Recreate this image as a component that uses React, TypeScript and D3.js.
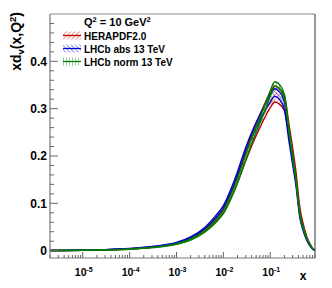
import * as d3 from "d3";
import { useRef, useEffect } from "react";

// x grid (log), band edges per fit
const xGrid = [2e-6, 1e-5, 3e-5, 1e-4, 3e-4, 1e-3, 2e-3, 4e-3, 7e-3, 0.01, 0.015, 0.02, 0.03, 0.045, 0.06, 0.08, 0.1, 0.125, 0.15, 0.2, 0.25, 0.3, 0.35, 0.43, 0.5, 0.6, 0.7, 0.8, 0.9];

const heraLow = [0.0002, 0.0007, 0.0015, 0.0033, 0.0068, 0.0138, 0.0232, 0.040, 0.062, 0.080, 0.114, 0.143, 0.190, 0.233, 0.260, 0.285, 0.302, 0.314, 0.311, 0.296, 0.244, 0.198, 0.155, 0.080, 0.052, 0.026, 0.013, 0.0045, 0.0005];
const heraHigh = [0.0003, 0.0009, 0.0019, 0.0041, 0.0082, 0.0162, 0.0268, 0.046, 0.070, 0.090, 0.128, 0.160, 0.212, 0.257, 0.287, 0.315, 0.335, 0.348, 0.344, 0.328, 0.268, 0.218, 0.170, 0.090, 0.058, 0.030, 0.015, 0.0055, 0.0008];

const absLow = [0.0003, 0.0009, 0.0018, 0.0039, 0.0078, 0.0156, 0.026, 0.045, 0.069, 0.088, 0.125, 0.157, 0.206, 0.249, 0.275, 0.298, 0.314, 0.326, 0.322, 0.298, 0.232, 0.182, 0.140, 0.068, 0.043, 0.022, 0.010, 0.0035, 0.0004];
const absHigh = [0.0004, 0.0011, 0.0021, 0.0045, 0.0088, 0.0172, 0.029, 0.049, 0.075, 0.095, 0.134, 0.167, 0.218, 0.261, 0.287, 0.311, 0.330, 0.342, 0.338, 0.314, 0.246, 0.193, 0.148, 0.073, 0.047, 0.024, 0.011, 0.004, 0.0005];

const normLow = [0.0002, 0.0006, 0.0014, 0.0031, 0.0064, 0.0132, 0.0222, 0.039, 0.060, 0.078, 0.113, 0.143, 0.192, 0.239, 0.269, 0.300, 0.326, 0.347, 0.344, 0.322, 0.252, 0.196, 0.150, 0.074, 0.048, 0.025, 0.012, 0.004, 0.0005];
const normHigh = [0.0003, 0.0008, 0.0017, 0.0037, 0.0074, 0.0148, 0.0248, 0.043, 0.066, 0.085, 0.122, 0.153, 0.203, 0.251, 0.281, 0.312, 0.338, 0.357, 0.353, 0.330, 0.260, 0.203, 0.156, 0.078, 0.051, 0.027, 0.013, 0.0048, 0.0006];

const seriesNames = ["HERAPDF2.0", "LHCb abs 13 TeV", "LHCb norm 13 TeV"];
const seriesColors = ["#c00000", "#0000cc", "#008000"];
const seriesLow = [heraLow, absLow, normLow];
const seriesHigh = [heraHigh, absHigh, normHigh];

const yMajor = [0, 0.1, 0.2, 0.3, 0.4];
const xMajor = [1e-5, 1e-4, 1e-3, 1e-2, 1e-1];
const xMajorExp = ["-5", "-4", "-3", "-2", "-1"];

const width = 332;
const height = 288;
const left = 50, right = 315, top = 14, bottom = 258;
const font = "Liberation Sans, Arial, sans-serif";

export default function App() {
    const ref = useRef<SVGGElement>(null);

    useEffect(() => {
        document.body.style.margin = "0";
        const g = d3.select(ref.current);
        g.selectAll("*").remove();

        const x = d3.scaleLog().domain([2e-6, 0.9]).range([left, right]);
        const y = d3.scaleLinear().domain([-0.0155, 0.5]).range([bottom, top]);

        const defs = g.append("defs");
        defs.append("clipPath").attr("id", "frame")
            .append("rect").attr("x", left).attr("y", top)
            .attr("width", right - left).attr("height", bottom - top);

        // hatch patterns: red "/", blue "\", green "|"
        const angles = [45, -45, 0];
        seriesColors.forEach((c, i) => {
            const p = defs.append("pattern")
                .attr("id", `hatch${i}`)
                .attr("patternUnits", "userSpaceOnUse")
                .attr("width", 3).attr("height", 3)
                .attr("patternTransform", `rotate(${angles[i]})`);
            p.append("line").attr("x1", 0).attr("y1", 0).attr("x2", 0).attr("y2", 3)
                .attr("stroke", c).attr("stroke-width", 1);
        });

        g.append("rect").attr("x", left).attr("y", top)
            .attr("width", right - left).attr("height", bottom - top)
            .attr("fill", "white");

        const bands = g.append("g").attr("clip-path", "url(#frame)");
        seriesColors.forEach((c, i) => {
            const lo = seriesLow[i], hi = seriesHigh[i];
            const area = d3.area<number>()
                .x((_, k) => x(xGrid[k]))
                .y0((_, k) => y(lo[k]))
                .y1((_, k) => y(hi[k]))
                .curve(d3.curveMonotoneX);
            bands.append("path").attr("d", area(xGrid))
                .attr("fill", `url(#hatch${i})`).attr("opacity", 0.8);
            [lo, hi].forEach(arr => {
                const line = d3.line<number>()
                    .x((_, k) => x(xGrid[k]))
                    .y((_, k) => y(arr[k]))
                    .curve(d3.curveMonotoneX);
                bands.append("path").attr("d", line(xGrid))
                    .attr("fill", "none").attr("stroke", c).attr("stroke-width", 1.4);
            });
        });

        // frame lines
        g.append("line").attr("x1", left).attr("x2", right).attr("y1", top).attr("y2", top)
            .attr("stroke", "#8a8a8a").attr("stroke-width", 1.2);
        g.append("line").attr("x1", right).attr("x2", right).attr("y1", top).attr("y2", bottom)
            .attr("stroke", "#333").attr("stroke-width", 1);
        g.append("line").attr("x1", left).attr("x2", left).attr("y1", top).attr("y2", bottom)
            .attr("stroke", "#777").attr("stroke-width", 1.2);
        g.append("line").attr("x1", left).attr("x2", right).attr("y1", bottom).attr("y2", bottom)
            .attr("stroke", "#777").attr("stroke-width", 1.2);

        // y ticks
        const yMinor = d3.range(0, 0.5, 0.02);
        g.selectAll(".ymin").data(yMinor).join("line")
            .attr("x1", left).attr("x2", d => left + (yMajor.some(m => Math.abs(m - d) < 1e-6) ? 8 : 4))
            .attr("y1", d => y(d)).attr("y2", d => y(d))
            .attr("stroke", "#666").attr("stroke-width", 1);
        g.selectAll(".ylab").data(yMajor).join("text")
            .attr("x", left - 3).attr("y", d => y(d) + 4.3)
            .attr("text-anchor", "end")
            .attr("font-family", font)
            .attr("font-weight", "bold").attr("font-size", 12)
            .text(d => d === 0 ? "0" : d3.format(".1f")(d));

        // x ticks
        const xMinor: number[] = [];
        for (let e = -6; e <= -1; e++) {
            for (let m = 1; m <= 9; m++) {
                const v = m * Math.pow(10, e);
                if (v >= 2e-6 && v <= 0.9) xMinor.push(v);
            }
        }
        g.selectAll(".xmin").data(xMinor).join("line")
            .attr("x1", d => x(d)).attr("x2", d => x(d))
            .attr("y1", bottom)
            .attr("y2", d => bottom - (xMajor.some(m => Math.abs(m / d - 1) < 1e-6) ? 6 : 3))
            .attr("stroke", "#666").attr("stroke-width", 1);
        const xl = g.selectAll(".xlab").data(xMajor).join("text")
            .attr("x", d => x(d) + 1).attr("y", 276)
            .attr("text-anchor", "middle")
            .attr("font-family", font)
            .attr("font-weight", "bold").attr("font-size", 10.5);
        xl.append("tspan").text("10");
        xl.append("tspan").attr("dy", -4.5).attr("font-size", 7).text((_, i) => xMajorExp[i]);

        // axis titles
        g.append("text").attr("x", 303).attr("y", 280)
            .attr("text-anchor", "middle")
            .attr("font-family", font)
            .attr("font-weight", "bold").attr("font-size", 12)
            .text("x");
        const yt = g.append("text")
            .attr("transform", "translate(20.5,12) rotate(-90)")
            .attr("text-anchor", "end")
            .attr("font-family", font)
            .attr("font-weight", "bold").attr("font-size", 14);
        yt.append("tspan").text("xd");
        yt.append("tspan").attr("dy", 3.5).attr("font-size", 9.5).text("v");
        yt.append("tspan").attr("dy", -3.5).text("(x,Q");
        yt.append("tspan").attr("dy", -5).attr("font-size", 9.5).text("2");
        yt.append("tspan").attr("dy", 5).text(")");

        // legend
        const lg = g.append("g")
            .attr("font-family", font)
            .attr("font-weight", "bold").attr("font-size", 10);
        const q = lg.append("text").attr("x", 84).attr("y", 26).attr("font-size", 11);
        q.append("tspan").text("Q");
        q.append("tspan").attr("dy", -4.5).attr("font-size", 7.5).text("2");
        q.append("tspan").attr("dy", 4.5).text(" = 10 GeV");
        q.append("tspan").attr("dy", -4.5).attr("font-size", 7.5).text("2");
        seriesNames.forEach((name, i) => {
            const cy = 35.5 + i * 13;
            lg.append("rect").attr("x", 63).attr("y", cy - 4).attr("width", 18).attr("height", 8)
                .attr("fill", `url(#hatch${i})`).attr("opacity", 0.8);
            lg.append("line").attr("x1", 63).attr("x2", 81).attr("y1", cy).attr("y2", cy)
                .attr("stroke", seriesColors[i]).attr("stroke-width", 1.3);
            lg.append("text").attr("x", 84).attr("y", cy + 4).text(name);
        });
    }, []);

    return (
        <svg width={width} height={height} viewBox={`0 0 ${width} ${height}`} style={{ display: "block" }}>
            <g ref={ref}></g>
        </svg>
    );
}
